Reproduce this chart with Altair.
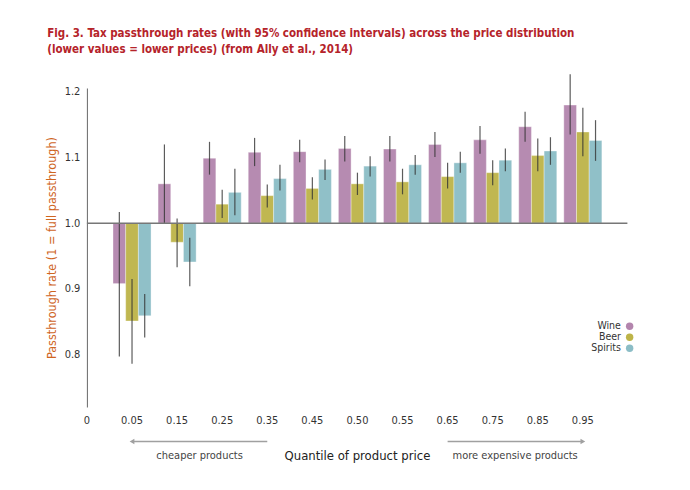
import altair as alt
import pandas as pd

FONT = "DejaVu Sans Condensed, Liberation Sans Narrow, sans-serif"

x_labels = ["0", "0.05", "0.15", "0.25", "0.35", "0.45", "0.50", "0.55", "0.65", "0.75", "0.85", "0.95"]
quantiles = x_labels[1:]
series = ["Wine", "Beer", "Spirits"]
colors = ["#b385ad", "#bdb448", "#8bbdc6"]

wine = [0.908, 1.060, 1.099, 1.108, 1.109, 1.114, 1.113, 1.120, 1.127, 1.147, 1.180]
wine_lo = [0.797, 1.000, 1.074, 1.087, 1.093, 1.094, 1.094, 1.101, 1.106, 1.124, 1.135]
wine_hi = [1.017, 1.120, 1.124, 1.130, 1.127, 1.133, 1.133, 1.139, 1.148, 1.170, 1.227]
beer = [0.851, 0.971, 1.029, 1.042, 1.053, 1.060, 1.063, 1.071, 1.077, 1.103, 1.139]
beer_lo = [0.786, 0.933, 1.008, 1.024, 1.036, 1.043, 1.044, 1.053, 1.058, 1.079, 1.102]
beer_hi = [0.915, 1.007, 1.051, 1.059, 1.070, 1.077, 1.083, 1.092, 1.096, 1.129, 1.176]
spirits = [0.859, 0.941, 1.047, 1.068, 1.082, 1.087, 1.089, 1.092, 1.096, 1.110, 1.126]
spirits_lo = [0.826, 0.904, 1.012, 1.050, 1.066, 1.071, 1.074, 1.077, 1.079, 1.089, 1.095]
spirits_hi = [0.892, 0.978, 1.083, 1.089, 1.097, 1.102, 1.104, 1.109, 1.114, 1.131, 1.157]

y_ticks = [0.8, 0.9, 1.0, 1.1, 1.2]

rows = []
for s, vals, lo, hi in [("Wine", wine, wine_lo, wine_hi),
                        ("Beer", beer, beer_lo, beer_hi),
                        ("Spirits", spirits, spirits_lo, spirits_hi)]:
    for q, v, l, h in zip(quantiles, vals, lo, hi):
        rows.append(dict(q=q, series=s, value=v, lo=l, hi=h, base=1.0))
df = pd.DataFrame(rows)

x_scale = alt.Scale(domain=x_labels, paddingInner=0.156, paddingOuter=0.078)
x_enc = alt.X("q:N", sort=x_labels, scale=x_scale,
              axis=alt.Axis(title=None, labelAngle=0, domain=False, ticks=False,
                            labelPadding=8, labelFontSize=11, labelColor="#333",
                            labelFont=FONT))
xoff = alt.XOffset("series:N", sort=series, scale=alt.Scale(domain=series, paddingInner=0))
color = alt.Color("series:N", sort=series, scale=alt.Scale(domain=series, range=colors),
                  legend=alt.Legend(title=None, orient="none", legendX=560, legendY=233,
                                    symbolType="circle", symbolSize=55, symbolOpacity=1,
                                    symbolStrokeWidth=0, labelAlign="right",
                                    labelOffset={"expr": "-14"},
                                    labelFontSize=10.5, labelFont=FONT, labelColor="#333",
                                    rowPadding=0))

y_scale = alt.Scale(domain=[0.72, 1.206], zero=False, nice=False)

bars = alt.Chart(df).mark_bar(opacity=0.95, stroke="white", strokeWidth=0.6, strokeOpacity=0.6).encode(
    x=x_enc, xOffset=xoff,
    y=alt.Y("value:Q", scale=y_scale,
            axis=alt.Axis(title="Passthrough rate (1 = full passthrough)", values=y_ticks,
                          format=".1f", offset=-22.5, ticks=False, grid=False,
                          domainColor="#666", domainWidth=1, labelPadding=7,
                          labelFontSize=11, labelColor="#333", labelFont=FONT,
                          titleColor="#cf651f", titleFontSize=12.5, titleFontWeight="normal",
                          titleFont=FONT, titlePadding=6)),
    y2="base:Q", color=color)

errs = alt.Chart(df).mark_rule(color="#333", strokeWidth=1.2, opacity=0.8).encode(
    x=alt.X("q:N", sort=x_labels), xOffset=xoff, y="lo:Q", y2="hi:Q")

ref = alt.Chart(pd.DataFrame({"y": [1.0]})).mark_rule(color="#777", strokeWidth=1.5).encode(
    y="y:Q", x=alt.value(22.5), x2=alt.value(563))

arrows_df = pd.DataFrame({"start": ["0.05", "0.65"], "end": ["0.35", "0.95"]})
arrows = alt.Chart(arrows_df).mark_rule(color="#a0a0a0", strokeWidth=1.5).encode(
    x="start:N", x2="end:N", y=alt.value(353.5))

heads_df = pd.DataFrame({"pos": ["0.05", "0.95"], "dir": ["left", "right"]})
heads = alt.Chart(heads_df).mark_point(filled=True, color="#a0a0a0", size=30, opacity=1).encode(
    x="pos:N", y=alt.value(353.5),
    shape=alt.Shape("dir:N", scale=alt.Scale(domain=["left", "right"],
                                             range=["triangle-left", "triangle-right"]),
                    legend=None))

side_df = pd.DataFrame({"pos": ["0.15", "0.75"], "label": ["cheaper products", "more expensive products"]})
side_text = alt.Chart(side_df).mark_text(dx=22.5, fontSize=11, font=FONT, color="#444",
                                         baseline="middle").encode(
    x="pos:N", y=alt.value(368), text="label:N")

xt_df = pd.DataFrame({"pos": ["0.50"], "label": ["Quantile of product price"]})
x_title = alt.Chart(xt_df).mark_text(fontSize=13, font=FONT, color="#222",
                                     baseline="middle").encode(
    x="pos:N", y=alt.value(368), text="label:N")

chart = alt.layer(bars, errs, ref, arrows, heads, side_text, x_title).properties(
    width=541, height=319, background="white",
    padding={"left": 56.4, "top": 80, "right": 76, "bottom": 75},
    autosize=alt.AutoSizeParams(type="none"),
    title=alt.Title(["Fig. 3. Tax passthrough rates (with 95% confidence intervals) across the price distribution",
                     "(lower values = lower prices) (from Ally et al., 2014)"],
                    anchor="start", font=FONT, fontSize=11.5, fontWeight="bold", color="#b5232a",
                    dx=2, lineHeight=16, offset=18)
).configure_view(stroke=None)

chart.save("out.html", embed_options={"renderer": "svg", "actions": False})
